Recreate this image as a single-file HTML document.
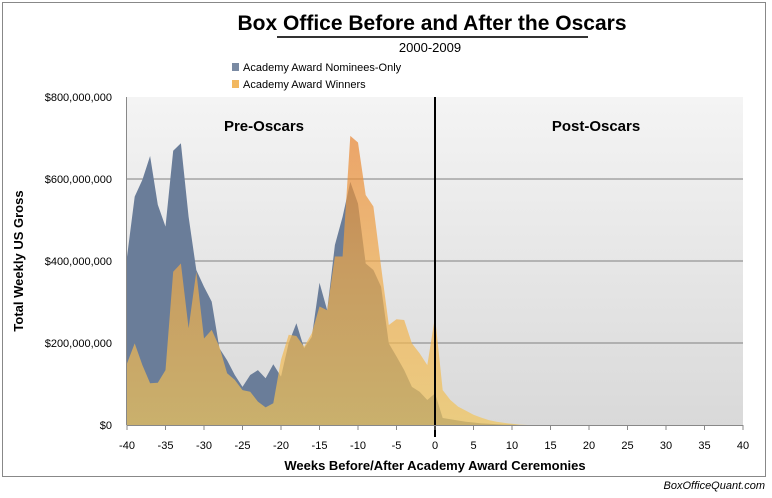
<!DOCTYPE html>
<html><head><meta charset="utf-8"><style>
body{margin:0;background:#fff;font-family:"Liberation Sans",Arial,sans-serif}
svg text{font-family:"Liberation Sans",Arial,sans-serif}
</style></head><body>
<svg width="772" height="493" viewBox="0 0 772 493">
<defs>
<linearGradient id="bg" x1="0" y1="0" x2="0" y2="1"><stop offset="0" stop-color="#f4f4f4"/><stop offset="1" stop-color="#d9d9d9"/></linearGradient>
<linearGradient id="yg" gradientUnits="userSpaceOnUse" x1="0" y1="130" x2="0" y2="425"><stop offset="0" stop-color="#e8822e"/><stop offset="0.45" stop-color="#f0a848"/><stop offset="1" stop-color="#f2c65a"/></linearGradient>
</defs>
<rect x="2.5" y="2.5" width="763" height="474" fill="#fff" stroke="#888"/>
<text x="432" y="30" text-anchor="middle" font-size="21" font-weight="bold">Box Office Before and After the Oscars</text>
<line x1="277" y1="37" x2="588" y2="37" stroke="#333" stroke-width="2"/>
<text x="430" y="52" text-anchor="middle" font-size="13">2000-2009</text>
<g>
<rect x="232" y="63" width="7" height="8" fill="#7a8aa3"/>
<text x="243" y="71" font-size="11">Academy Award Nominees-Only</text>
<rect x="232" y="80" width="7" height="8" fill="#f2b860"/>
<text x="243" y="88" font-size="11">Academy Award Winners</text>
</g>
<rect x="127" y="97" width="616" height="328" fill="url(#bg)"/>
<g id="grid"></g>
<g id="series"></g>
<g id="axes"></g>
<text x="264" y="131" text-anchor="middle" font-size="15" font-weight="bold">Pre-Oscars</text>
<text x="596" y="131" text-anchor="middle" font-size="15" font-weight="bold">Post-Oscars</text>
<text x="435" y="470" text-anchor="middle" font-size="13" font-weight="bold">Weeks Before/After Academy Award Ceremonies</text>
<text transform="translate(23,261) rotate(-90)" text-anchor="middle" font-size="13" font-weight="bold">Total Weekly US Gross</text>
<text x="765" y="489" text-anchor="end" font-size="11" font-style="italic">BoxOfficeQuant.com</text>
</svg>
<script>
const weeks=[];for(let w=-40;w<=40;w++)weeks.push(w);
const nominees=[410,557,598,656,537,484,669,687,508,378,337,301,187,158,122,93,122,134,114,148,118,200,248,187,215,347,280,439,508,593,540,394,378,337,199,167,134,93,81,61,77,17,14,11,8,6,4,3,2,1,1,0,0,0,0,0,0,0,0,0,0,0,0,0,0,0,0,0,0,0,0,0,0,0,0,0,0,0,0,0,0];
const winners=[150,199,146,102,103,134,374,394,236,374,211,232,191,126,110,85,81,57,43,53,159,220,217,191,224,289,280,411,411,705,689,561,533,386,244,258,256,199,175,146,264,85,61,45,35,25,18,12,8,5,3,1,0,0,0,0,0,0,0,0,0,0,0,0,0,0,0,0,0,0,0,0,0,0,0,0,0,0,0,0,0];
const yTicks=[0,200,400,600,800];
const yTickLabels=["$0","$200,000,000","$400,000,000","$600,000,000","$800,000,000"];
const xTicks=[-40,-35,-30,-25,-20,-15,-10,-5,0,5,10,15,20,25,30,35,40];
const NS="http://www.w3.org/2000/svg";
const X=w=>127+(w+40)*616/80;
const Y=v=>425-v*328/800;
function mk(t,a,p){const e=document.createElementNS(NS,t);for(const k in a)e.setAttribute(k,a[k]);p.appendChild(e);return e;}
const grid=document.getElementById('grid'),ser=document.getElementById('series'),ax=document.getElementById('axes');
yTicks.forEach((v,i)=>{
 if(v>0&&v<800){const l=mk('line',{x1:127,x2:743,y1:Y(v),y2:Y(v),stroke:'#808080','stroke-width':1},grid);
 
 }
 const t=mk('text',{x:112,y:Y(v)+4,'text-anchor':'end','font-size':11},ax);t.textContent=yTickLabels[i];
 
 
});
function area(vals,fill,op,name){
 let d='M'+X(weeks[0])+','+Y(0);
 vals.forEach((v,i)=>{d+=' L'+X(weeks[i]).toFixed(1)+','+Y(v).toFixed(1);});
 d+=' L'+X(weeks[weeks.length-1])+','+Y(0)+' Z';
 const p=mk('path',{d:d,fill:fill,'fill-opacity':op},ser);
 
 
}
area(nominees,'#6a7d99',1,'nominees-area');
area(winners,'url(#yg)',0.7,'winners-area');
const ol=mk('line',{x1:X(0),x2:X(0),y1:97,y2:437,stroke:'#000','stroke-width':2},ax);


const xl=mk('line',{x1:127,x2:743,y1:425.5,y2:425.5,stroke:'#888'},ax);


const yl=mk('line',{x1:126.5,x2:126.5,y1:97,y2:425,stroke:'#888'},ax);


xTicks.forEach(w=>{
 const tk=mk('line',{x1:X(w),x2:X(w),y1:425,y2:430,stroke:'#888'},ax);
 
 
 const t=mk('text',{x:X(w),y:449,'text-anchor':'middle','font-size':11},ax);t.textContent=w;
 
 
});
</script>
</body></html>
